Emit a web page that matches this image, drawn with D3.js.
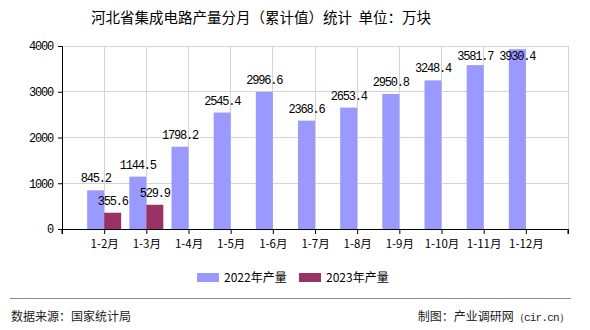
<!DOCTYPE html>
<html><head><meta charset="utf-8">
<script src="https://cdn.jsdelivr.net/npm/d3@7/dist/d3.min.js"></script>
<style>
html,body{margin:0;padding:0;background:#fff;}
svg{display:block;}
</style></head>
<body><svg id="c" width="590" height="330"></svg>
<script>
const categories = ["1-2月","1-3月","1-4月","1-5月","1-6月","1-7月","1-8月","1-9月","1-10月","1-11月","1-12月"];
const values2022 = [845.2,1144.5,1798.2,2545.4,2996.6,2368.6,2653.4,2950.8,3248.4,3581.7,3930.4];
const values2023 = [355.6,529.9,null,null,null,null,null,null,null,null,null];
const seriesNames = ["2022年产量","2023年产量"];
const yTicks = [0,1000,2000,3000,4000];

const colors = ["#9999FF","#993366"];
const svg = d3.select("#c");
const L = 62, R = 568, T = 46, B = 229;
const cjk = "'SimSun','Noto Sans CJK SC',sans-serif";
const mono = "'Liberation Mono','DejaVu Sans Mono',monospace";

const x = d3.scalePoint().domain(categories).range([L, R]).padding(1);
const y = d3.scaleLinear().domain([0, 4000]).range([B, T]);
const bw = 17;

// gridlines
const g = svg.append("g");
g.selectAll(".hg").data(yTicks.filter(d=>d>0)).join("line")
  .attr("x1", L).attr("x2", R).attr("y1", d=>y(d)).attr("y2", d=>y(d))
  .attr("stroke", "#d4d4d4").attr("stroke-width", 1).attr("shape-rendering","crispEdges");
g.selectAll(".vg").data(categories).join("line")
  .attr("x1", d=>x(d)).attr("x2", d=>x(d)).attr("y1", T).attr("y2", B)
  .attr("stroke", "#d4d4d4").attr("shape-rendering","crispEdges");
g.append("line").attr("x1", R).attr("x2", R).attr("y1", T).attr("y2", B)
  .attr("stroke", "#d4d4d4").attr("shape-rendering","crispEdges");

// bars
const series = [values2022, values2023];
series.forEach((vals, si) => {
  const data = categories.map((c,i)=>({c, v: vals[i]})).filter(d=>d.v!=null);
  svg.append("g").selectAll("rect").data(data).join("rect")
    .attr("x", d => si===0 ? x(d.c) - bw : x(d.c))
    .attr("width", bw)
    .attr("y", d => y(d.v))
    .attr("height", d => B - y(d.v))
    .attr("fill", colors[si]);
  svg.append("g").selectAll("text").data(data).join("text")
    .attr("x", d => (si===0 ? x(d.c) - bw/2 : x(d.c) + bw/2))
    .attr("y", d => Math.max(y(d.v) - 8, T + 14))
    .attr("text-anchor", "middle")
    .attr("font-family", mono).attr("font-size", 12).attr("letter-spacing", "-1.2px")
    .attr("fill", "#000")
    .text(d => d.v.toFixed(1));
});

// axes
const yAxis = d3.axisLeft(y).tickValues(yTicks).tickSize(4).tickFormat(d=>d);
const ya = svg.append("g").attr("transform", `translate(${L},0)`).call(yAxis);
ya.select(".domain").attr("stroke","#000");
ya.selectAll("text").attr("font-family", mono).attr("font-size", 12).attr("letter-spacing","-1.2px").attr("dx", -2).attr("fill","#000");

const xAxis = d3.axisBottom(x).tickSize(5).tickSizeOuter(5);
const xa = svg.append("g").attr("transform", `translate(0,${B})`).call(xAxis);
xa.select(".domain").attr("stroke","#000");
xa.selectAll("text").attr("font-family", cjk).attr("font-size", 11.5).attr("fill","#000").attr("dy","0.95em");
xa.append("line").attr("x1", L).attr("x2", L).attr("y1", 0).attr("y2", 5).attr("stroke","#000");
xa.append("line").attr("x1", R).attr("x2", R).attr("y1", 0).attr("y2", 5).attr("stroke","#000");

// title
svg.append("text").attr("x", 261).attr("y", 23).attr("text-anchor","middle")
  .attr("font-family", cjk).attr("font-size", 14.5).attr("fill","#000")
  .attr("xml:space","preserve")
  .text("河北省集成电路产量分月（累计值）统计\u00a0 单位：万块");

// legend
const legX = [197, 299];
seriesNames.forEach((n,i)=>{
  svg.append("rect").attr("x", legX[i]).attr("y", 273).attr("width", 22).attr("height", 9).attr("fill", colors[i]);
  svg.append("text").attr("x", legX[i] + 27).attr("y", 282).attr("font-family", cjk).attr("font-size", 12).attr("fill","#000").text(n);
});

// footer
svg.append("line").attr("x1", 10).attr("x2", 571).attr("y1", 298.5).attr("y2", 298.5).attr("stroke","#888").attr("stroke-width",1);
svg.append("text").attr("x", 11).attr("y", 321).attr("font-family", cjk).attr("font-size", 12).attr("fill","#222").text("数据来源：国家统计局");
const ft = svg.append("text").attr("x", 569).attr("y", 321).attr("text-anchor","end").attr("font-family", cjk).attr("font-size", 12).attr("fill","#222");
ft.append("tspan").text("制图：产业调研网");
ft.append("tspan").attr("font-family", mono).attr("font-size", 11).attr("letter-spacing","-0.8px").text("（cir.cn）");
</script></body></html>
